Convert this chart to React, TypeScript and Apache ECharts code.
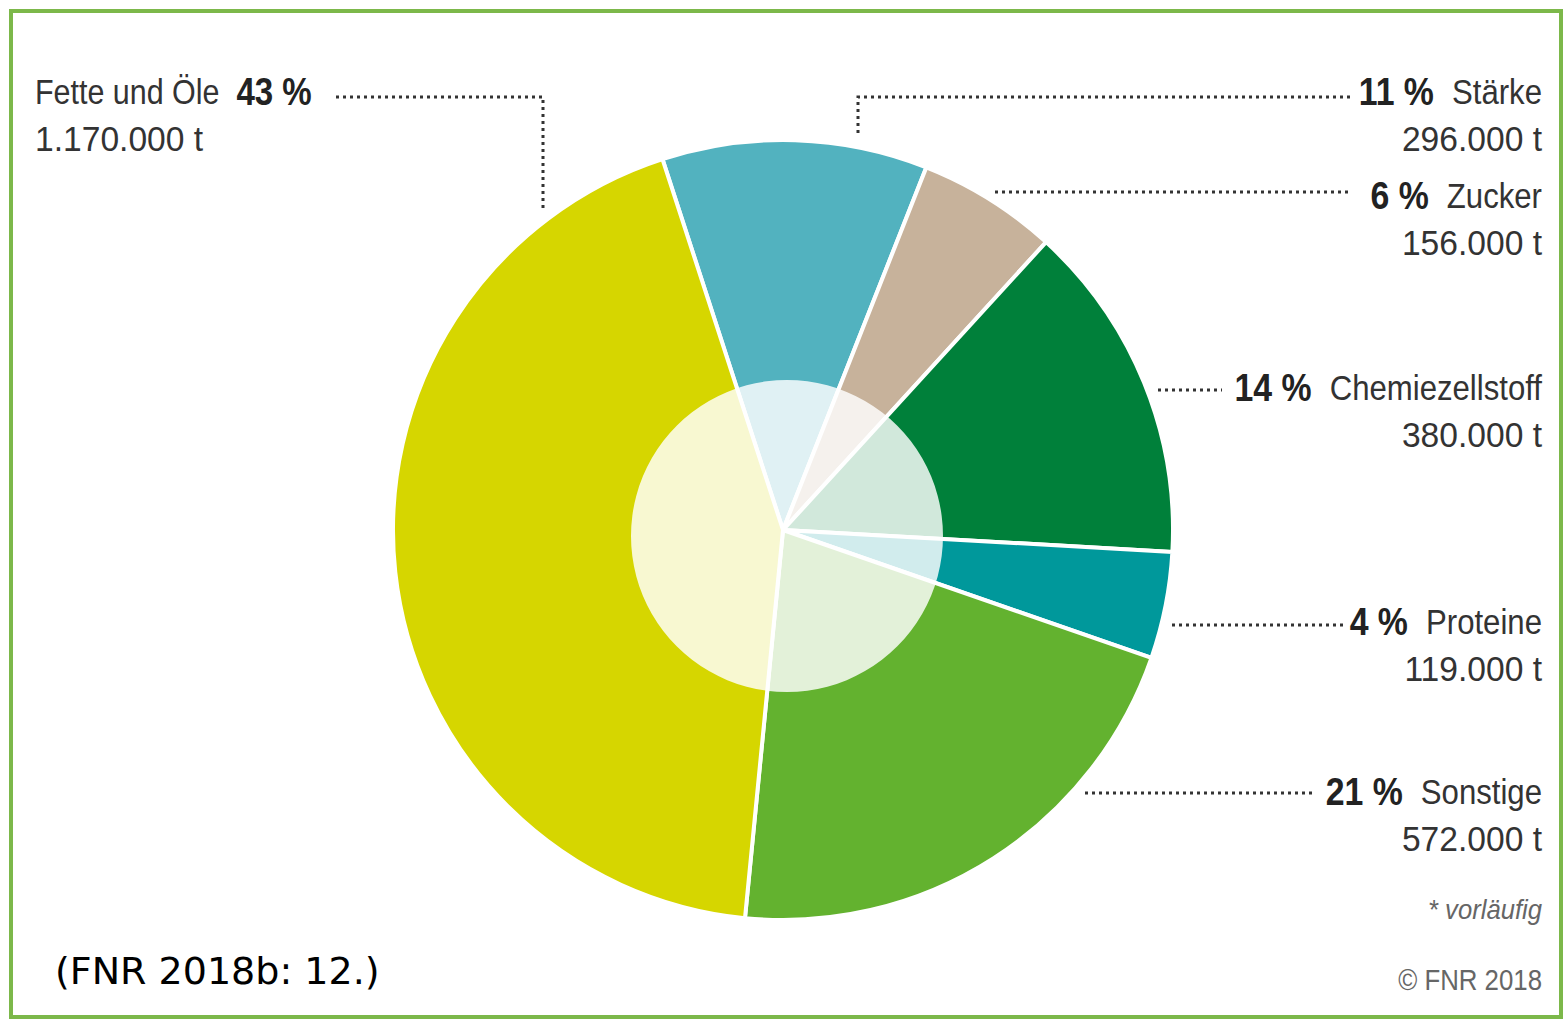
import React, { useEffect, useRef } from "react";
import * as echarts from "echarts";

const categories = ["Stärke", "Zucker", "Chemiezellstoff", "Proteine", "Sonstige", "Fette und Öle"];
const tonnes = [296000, 156000, 380000, 119000, 572000, 1170000];
const percentLabels = ["11 %", "6 %", "14 %", "4 %", "21 %", "43 %"];
const colors = ["#52b2bf", "#c7b29b", "#00803a", "#00989b", "#63b22f", "#d6d600"];
const totalLabel = "2,7 Mio. t";
const totalTitle = "gesamt";
const footnote = "* vorläufig";
const copyright = "© FNR 2018";
const citation = "(FNR 2018b: 12.)";

const fmt = (v: number) => v.toString().replace(/\B(?=(\d{3})+(?!\d))/g, ".") + " t";

const LABEL_FONT = '"Liberation Sans", Arial, sans-serif';
const TXT = "#333333";
const SX = 0.89;
const SXV = 0.96;

export default function App() {
  const ref = useRef<HTMLDivElement>(null);
  useEffect(() => {
    if (!ref.current) return;
    const chart = echarts.init(ref.current, undefined, { renderer: "svg" });
    const cx = 783;
    const cy = 530;

    const rich = {
      p: { fontFamily: LABEL_FONT, fontSize: 38, fontWeight: "bold", fill: "#222", color: "#222" },
      n: { fontFamily: LABEL_FONT, fontSize: 35, fill: TXT, color: TXT },
    };

    const rightLabels: [number, number][] = [
      [0, 92],
      [1, 196],
      [2, 388],
      [3, 622],
      [4, 792],
    ];
    const graphics: any[] = [];
    graphics.push({
      type: "rect",
      shape: { x: 11, y: 11, width: 1550, height: 1006 },
      style: { fill: "none", stroke: "#7cb84a", lineWidth: 4 },
      silent: true,
    });
    rightLabels.forEach(([i, y]) => {
      graphics.push({
        type: "text",
        x: 1542,
        y: y,
        scaleX: SX,
        style: {
          text: `{p|${percentLabels[i]}\u00a0}{n|\u00a0${categories[i]}}`,
          rich,
          align: "right",
          verticalAlign: "middle",
        },
      });
      graphics.push({
        type: "text",
        x: 1542,
        y: y + 47,
        scaleX: SXV,
        style: {
          text: fmt(tonnes[i]),
          font: `35px ${LABEL_FONT}`,
          fill: TXT,
          align: "right",
          verticalAlign: "middle",
        },
      });
    });
    graphics.push({
      type: "text",
      x: 35,
      y: 92,
      scaleX: 0.87,
      style: {
        text: `{n|${categories[5]}\u00a0\u00a0}{p|${percentLabels[5]}}`,
        rich,
        align: "left",
        verticalAlign: "middle",
      },
    });
    graphics.push({
      type: "text",
      x: 35,
      y: 139,
      scaleX: SXV,
      style: {
        text: fmt(tonnes[5]),
        font: `35px ${LABEL_FONT}`,
        fill: TXT,
        align: "left",
        verticalAlign: "middle",
      },
    });

    const dotted = { stroke: "#333", lineWidth: 3, lineDash: [3, 4], fill: "none" };
    const leaders: number[][][] = [
      [[336, 97], [543, 97], [543, 208]],
      [[1350, 97], [858, 97], [858, 135]],
      [[995, 192], [1350, 192]],
      [[1158, 390], [1222, 390]],
      [[1172, 625], [1345, 625]],
      [[1085, 793], [1315, 793]],
    ];
    leaders.forEach((pts) => {
      graphics.push({ type: "polyline", shape: { points: pts }, style: dotted, silent: true });
    });

    graphics.push({
      type: "text",
      x: 786,
      y: 500,
      scaleX: SX,
      style: { text: totalTitle, font: `32px ${LABEL_FONT}`, fill: "#444", align: "center", verticalAlign: "middle" },
    });
    graphics.push({
      type: "text",
      x: 786,
      y: 550,
      scaleX: SX,
      style: { text: totalLabel, font: `bold 37px ${LABEL_FONT}`, fill: "#1a1a1a", align: "center", verticalAlign: "middle" },
    });
    graphics.push({
      type: "text",
      x: 1542,
      y: 910,
      scaleX: 0.95,
      style: { text: footnote, font: `italic 27px ${LABEL_FONT}`, fill: "#666", align: "right", verticalAlign: "middle" },
    });
    graphics.push({
      type: "text",
      x: 1542,
      y: 980,
      scaleX: SX,
      style: { text: copyright, font: `29px ${LABEL_FONT}`, fill: "#666", align: "right", verticalAlign: "middle" },
    });
    graphics.push({
      type: "text",
      x: 55,
      y: 971,
      style: { text: citation, font: '38px "DejaVu Sans", Verdana, sans-serif', fill: "#000", align: "left", verticalAlign: "middle" },
    });

    chart.setOption({
      animation: false,
      backgroundColor: "#ffffff",
      series: [
        {
          type: "pie",
          center: [cx, cy],
          radius: [0, 390],
          startAngle: 108,
          clockwise: true,
          silent: true,
          label: { show: false },
          labelLine: { show: false },
          itemStyle: { borderColor: "#ffffff", borderWidth: 4 },
          data: categories.map((c, i) => ({ name: c, value: tonnes[i], itemStyle: { color: colors[i] } })),
        },
        {
          type: "pie",
          center: [cx + 4, cy + 6],
          radius: [0, 156],
          silent: true,
          label: { show: false },
          labelLine: { show: false },
          itemStyle: { color: "rgba(255,255,255,0.82)", borderWidth: 0 },
          data: [{ name: "gesamt", value: 1 }],
          z: 3,
        },
      ],
      graphic: graphics,
    });
    return () => chart.dispose();
  }, []);
  return <div ref={ref} style={{ position: "fixed", left: 0, top: 0, width: 1565, height: 1021 }} />;
}
